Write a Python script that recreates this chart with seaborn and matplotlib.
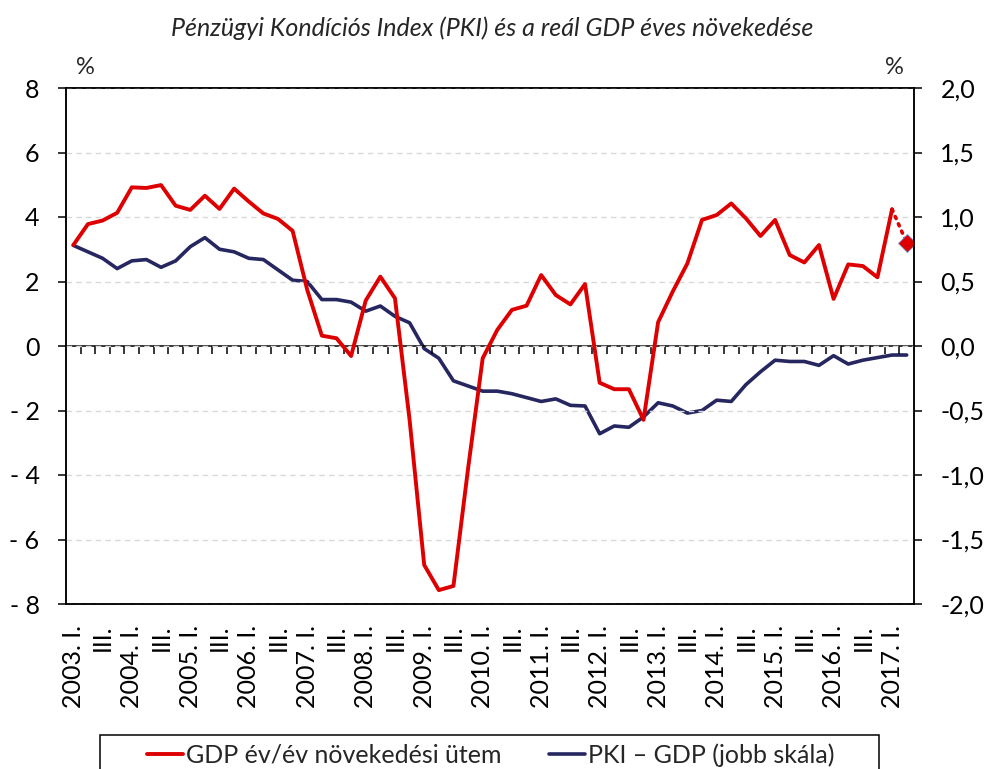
import numpy as np
import pandas as pd
import seaborn as sns
import matplotlib
matplotlib.use("Agg")
from matplotlib import pyplot as plt
from matplotlib.patches import Rectangle

# quarterly data, 2003 Q1 - 2017 Q2
years = list(range(2003, 2018))
quarter_names = ["I.", "II.", "III.", "IV."]

gdp_growth = [3.13, 3.78, 3.89, 4.13,
              4.92, 4.90, 4.99, 4.35,
              4.22, 4.66, 4.25, 4.88,
              4.48, 4.11, 3.94, 3.57,
              1.74, 0.32, 0.24, -0.31,
              1.41, 2.15, 1.48, -2.29,
              -6.79, -7.57, -7.44, -3.80,
              -0.38, 0.50, 1.12, 1.25,
              2.20, 1.58, 1.29, 1.92,
              -1.14, -1.34, -1.34, -2.29,
              0.74, 1.69, 2.56, 3.91,
              4.06, 4.42, 3.96, 3.41,
              3.91, 2.82, 2.59, 3.13,
              1.46, 2.53, 2.48, 2.13,
              4.24]
gdp_estimate = 3.20  # 2017 Q2

pki_gdp = [0.78, 0.73, 0.68, 0.60,
           0.66, 0.67, 0.61, 0.66,
           0.77, 0.84, 0.75, 0.73,
           0.68, 0.67, 0.59, 0.51,
           0.50, 0.36, 0.36, 0.34,
           0.27, 0.31, 0.23, 0.18,
           -0.02, -0.095, -0.27, -0.31,
           -0.35, -0.35, -0.37, -0.40,
           -0.43, -0.41, -0.46, -0.465,
           -0.68, -0.62, -0.63, -0.55,
           -0.44, -0.465, -0.52, -0.50,
           -0.42, -0.43, -0.30, -0.20,
           -0.11, -0.12, -0.12, -0.15,
           -0.075, -0.14, -0.11, -0.09,
           -0.07, -0.07]

quarters = [(y, q) for y in years for q in quarter_names][:len(pki_gdp)]
tick_labels = [f"{y}. {q}" if q == "I." else q for (y, q) in quarters]

title = "Pénzügyi Kondíciós Index (PKI) és a reál GDP éves növekedése"
label_gdp = "GDP év/év növekedési ütem"
label_pki = "PKI – GDP (jobb skála)"

RED = "#DE0000"
NAVY = "#262660"
GRID = "#D9D9D9"

df_gdp = pd.DataFrame({"pos": range(len(gdp_growth)), "value": gdp_growth})
df_est = pd.DataFrame({"pos": [len(gdp_growth) - 1, len(gdp_growth)],
                       "value": [gdp_growth[-1], gdp_estimate]})
df_pki = pd.DataFrame({"pos": range(len(pki_gdp)), "value": pki_gdp})

sns.set_theme(style="white")
plt.rcParams["font.family"] = ["Lato", "DejaVu Sans"]

fig = plt.figure(figsize=(9.87, 7.69), dpi=100)
ax = fig.add_axes([66 / 987, 1 - 604 / 769, 848 / 987, 516 / 769])
ax2 = ax.twinx()

sns.lineplot(data=df_pki, x="pos", y="value", ax=ax2, color=NAVY, lw=2.6, legend=False)
sns.lineplot(data=df_gdp, x="pos", y="value", ax=ax, color=RED, lw=2.8, legend=False)
sns.lineplot(data=df_est, x="pos", y="value", ax=ax, color=RED, lw=2.6, legend=False,
             linestyle=(0, (0.6, 1.6)), dash_capstyle="round")
ax.plot(df_est["pos"].iloc[-1:], df_est["value"].iloc[-1:], marker="D", ms=9,
        color=RED, mec="#6E8FC9", mew=0.6, ls="none")

ax.set_zorder(ax2.get_zorder() + 1)
ax.patch.set_visible(False)

n = len(pki_gdp)
ax.set_xlim(-0.5, n - 0.5)
ax.set_ylim(-8, 8)
ax2.set_ylim(-2, 2)

yl = np.arange(-8, 9, 2)
ax.set_yticks(yl)
ax.set_yticklabels([f"- {abs(v)}" if v < 0 else f"{v}" for v in yl])
yr = np.arange(-2, 2.01, 0.5)
ax2.set_yticks(yr)
ax2.set_yticklabels([f"{v:.1f}".replace(".", ",") for v in yr])

ax.set_xticks(range(0, n, 2))
ax.set_xticklabels(tick_labels[::2], rotation=90)
ax.set_xlabel("")
ax.set_ylabel("")
ax2.set_ylabel("")

ax.tick_params(axis="x", length=0, pad=15, labelsize=18, colors="black")
ax.tick_params(axis="y", direction="out", length=6, width=1.1, pad=13,
               labelsize=18, left=True, colors="black")
ax2.tick_params(axis="y", direction="out", length=6, width=1.1, pad=13,
                labelsize=18, right=True, colors="black")

ax.yaxis.grid(True, color=GRID, lw=1, ls=(0, (4, 3)))
ax.xaxis.grid(False)
ax2.grid(False)

for a in (ax, ax2):
    for s in a.spines.values():
        s.set_color("black")
        s.set_linewidth(1.1)

# zero line with category tick marks
zero = ax.secondary_xaxis(0.5)
zero.set_xticks(np.arange(0.5, n - 0.5, 1))
zero.set_xticklabels([])
zero.tick_params(axis="x", direction="in", length=6, width=1.1, colors="black")
for s in zero.spines.values():
    s.set_color("black")
    s.set_linewidth(1.1)

fig.text(85 / 987, 1 - 68 / 769, "%", ha="center", va="center", fontsize=17)
fig.text(894 / 987, 1 - 68 / 769, "%", ha="center", va="center", fontsize=17)
fig.text(492 / 987, 1 - 28 / 769, title, ha="center", va="center",
         style="italic", fontsize=18)

handles = [ax.get_lines()[0], ax2.get_lines()[0]]
fig.legend(handles, [label_gdp, label_pki], loc="center left",
           bbox_to_anchor=(147 / 987, 1 - 755 / 769), ncol=2, frameon=False,
           borderpad=0, borderaxespad=0, handlelength=1.44, handletextpad=0.12,
           columnspacing=1.9, fontsize=18)
fig.patches.append(Rectangle((100 / 987, -0.02), 779 / 987, 0.02 + 1 - 735 / 769,
                             transform=fig.transFigure, fill=False,
                             ec="black", lw=1.1))

fig.savefig("out.png", dpi=100)
